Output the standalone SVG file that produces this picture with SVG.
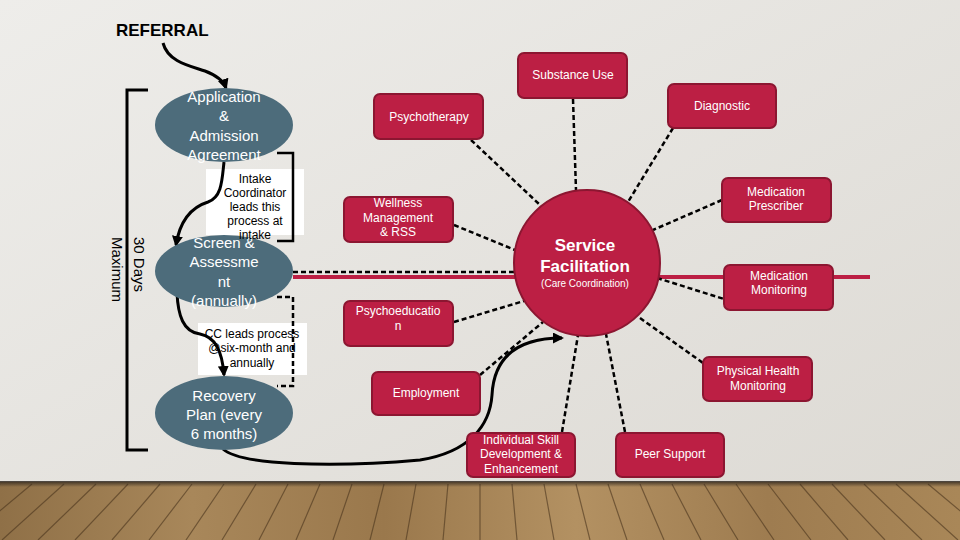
<svg xmlns="http://www.w3.org/2000/svg" width="960" height="540" viewBox="0 0 960 540">
<defs>
<linearGradient id="bg" x1="0" y1="0" x2="1" y2="1">
<stop offset="0" stop-color="#eeedea"/><stop offset="1" stop-color="#dcd9d3"/>
</linearGradient>
<linearGradient id="wood" x1="0" y1="0" x2="1" y2="0">
<stop offset="0" stop-color="#8f7047"/><stop offset="0.2" stop-color="#a8875a"/><stop offset="0.4" stop-color="#9a784c"/><stop offset="0.6" stop-color="#b39162"/><stop offset="0.8" stop-color="#9e7c50"/><stop offset="1" stop-color="#a98758"/>
</linearGradient>
<linearGradient id="shade" x1="0" y1="0" x2="0" y2="1">
<stop offset="0" stop-color="#2e261e" stop-opacity="0.9"/><stop offset="1" stop-color="#2e261e" stop-opacity="0"/>
</linearGradient>
<marker id="arr" markerUnits="userSpaceOnUse" markerWidth="11" markerHeight="11" refX="9" refY="5.5" orient="auto">
<path d="M0,0 L11,5.5 L0,11 z" fill="#000"/>
</marker>
<style>
.ell{fill:#4d6c7b;}
.et{font-family:"Liberation Sans",Arial,sans-serif;font-size:15px;fill:#fff;text-anchor:middle;}
.box{fill:#bc1f44;stroke:#8c1631;stroke-width:2;}
.bt{font-family:"Liberation Sans",Arial,sans-serif;font-size:12px;fill:#fff;text-anchor:middle;}
.lbl{fill:#fff;}
.lt{font-family:"Liberation Sans",Arial,sans-serif;font-size:12px;fill:#000;text-anchor:middle;}
.dash{stroke:#000;stroke-width:2.5;stroke-dasharray:5 3;fill:none;}
.solid{stroke:#000;stroke-width:3;fill:none;}
</style>
</defs>

<rect width="960" height="540" fill="url(#bg)"/>

<!-- wood floor -->
<g id="floor">
<rect x="0" y="482" width="960" height="58" fill="url(#wood)"/>
<path d="M0,484 L-72,540 M32,484 L-35,540 M64,484 L2,540 M96,484 L38,540 M128,484 L75,540 M160,484 L112,540 M192,484 L149,540 M224,484 L186,540 M256,484 L222,540 M288,484 L259,540 M320,484 L296,540 M352,484 L333,540 M384,484 L370,540 M416,484 L406,540 M448,484 L443,540 M480,484 L480,540 M512,484 L517,540 M544,484 L554,540 M576,484 L590,540 M608,484 L627,540 M640,484 L664,540 M672,484 L701,540 M704,484 L738,540 M736,484 L774,540 M768,484 L811,540 M800,484 L848,540 M832,484 L885,540 M864,484 L922,540 M896,484 L958,540 M928,484 L995,540 M960,484 L1032,540" stroke="#4a341d" stroke-width="1.2" stroke-opacity="0.6" fill="none"/>
<rect x="0" y="481" width="960" height="6" fill="url(#shade)"/>
</g>

<text x="116" y="36" font-family="Liberation Sans,Arial,sans-serif" font-size="17" font-weight="bold" fill="#000">REFERRAL</text>

<!-- bracket and side label -->
<path d="M148,90 L127,90 L127,450 L148,450" class="solid"/>
<text transform="translate(134,237) rotate(90)" font-family="Liberation Sans,Arial,sans-serif" font-size="15" fill="#000">30 Days</text>
<text transform="translate(112,237) rotate(90)" font-family="Liberation Sans,Arial,sans-serif" font-size="15" fill="#000">Maximum</text>

<!-- white label boxes -->
<g id="label-intake">
<rect x="206" y="169" width="98" height="66" class="lbl"/>
<text class="lt" x="255" y="183">Intake</text>
<text class="lt" x="255" y="197">Coordinator</text>
<text class="lt" x="255" y="211">leads this</text>
<text class="lt" x="255" y="225">process at</text>
</g>
<g id="label-cc">
<rect x="198" y="323" width="109" height="52" class="lbl"/>
<text class="lt" x="252" y="338">CC leads process</text>
<text class="lt" x="252" y="352">@six-month and</text>
<text class="lt" x="252" y="367">annually</text>
</g>

<g id="connectors">
<line x1="293" y1="277" x2="870" y2="277" stroke="#bc1f44" stroke-width="4"/>
<line x1="293" y1="272" x2="515" y2="272" class="dash"/>
<path d="M163,43 C168,62 190,66 205,71 C218,76 224,82 226,88" class="solid" marker-end="url(#arr)"/>
<path d="M224,162 C222,180 222,197 208,202 C192,207 180,220 176,245" class="solid" marker-end="url(#arr)"/>
<path d="M177,293 C178,315 183,332 200,334 C215,337 222,350 224,375" class="solid" marker-end="url(#arr)"/>
<path d="M223,449 C240,465 330,468 420,460 C470,452 490,425 492,395 C494,355 520,338 562,338" class="solid" marker-end="url(#arr)"/>
<path d="M277,153 L293,153 L293,241 L277,241" stroke="#000" stroke-width="2.5" fill="none"/>
<path d="M277,297 L293,297 L293,386 L277,386" class="dash"/>
<line x1="573" y1="99" x2="576" y2="190" class="dash"/>
<line x1="471" y1="140" x2="539" y2="204" class="dash"/>
<line x1="673" y1="128" x2="628" y2="202" class="dash"/>
<line x1="722" y1="200" x2="653" y2="230" class="dash"/>
<line x1="454" y1="225" x2="515" y2="250" class="dash"/>
<line x1="454" y1="322" x2="524" y2="301" class="dash"/>
<line x1="657" y1="278" x2="724" y2="299" class="dash"/>
<line x1="480" y1="375" x2="543" y2="322" class="dash"/>
<line x1="562" y1="432" x2="578" y2="335" class="dash"/>
<line x1="625" y1="432" x2="606" y2="334" class="dash"/>
<line x1="640" y1="318" x2="703" y2="363" class="dash"/>
</g>

<g id="node-application">
<ellipse cx="224" cy="125" rx="69" ry="37" class="ell"/>
<text class="et" x="224" y="102">Application</text>
<text class="et" x="224" y="121">&amp;</text>
<text class="et" x="224" y="141">Admission</text>
<text class="et" x="224" y="160">Agreement</text>
</g>
<g id="node-screen">
<ellipse cx="224" cy="271" rx="69" ry="36" class="ell"/>
<text class="et" x="224" y="248">Screen &amp;</text>
<text class="et" x="224" y="267">Assessme</text>
<text class="et" x="224" y="287">nt</text>
<text class="et" x="224" y="306">(annually)</text>
</g>
<text class="lt" x="255" y="239">intake</text>
<g id="node-recovery">
<ellipse cx="224" cy="413" rx="69" ry="37" class="ell"/>
<text class="et" x="224" y="401">Recovery</text>
<text class="et" x="224" y="420">Plan (every</text>
<text class="et" x="224" y="439">6 months)</text>
</g>

<g id="node-service">
<circle cx="587" cy="263" r="73" fill="#bc1f44" stroke="#8c1631" stroke-width="2"/>
<text x="585" y="251" font-family="Liberation Sans,Arial,sans-serif" font-size="17" font-weight="bold" fill="#fff" text-anchor="middle">Service</text>
<text x="585" y="272" font-family="Liberation Sans,Arial,sans-serif" font-size="17" font-weight="bold" fill="#fff" text-anchor="middle">Facilitation</text>
<text x="585" y="287" font-family="Liberation Sans,Arial,sans-serif" font-size="10" fill="#fff" text-anchor="middle">(Care Coordination)</text>
</g>

<g id="node-substance"><rect x="518" y="53" width="109" height="45" rx="6" class="box"/><text class="bt" x="573" y="79">Substance Use</text></g>
<g id="node-diagnostic"><rect x="668" y="84" width="108" height="44" rx="6" class="box"/><text class="bt" x="722" y="110">Diagnostic</text></g>
<g id="node-psychotherapy"><rect x="374" y="94" width="109" height="45" rx="6" class="box"/><text class="bt" x="429" y="121">Psychotherapy</text></g>
<g id="node-wellness"><rect x="344" y="197" width="109" height="45" rx="6" class="box"/><text class="bt" x="398" y="207">Wellness</text><text class="bt" x="398" y="222">Management</text><text class="bt" x="398" y="236">&amp; RSS</text></g>
<g id="node-prescriber"><rect x="722" y="178" width="109" height="44" rx="6" class="box"/><text class="bt" x="776" y="196">Medication</text><text class="bt" x="776" y="210">Prescriber</text></g>
<g id="node-monitoring"><rect x="724" y="265" width="109" height="45" rx="6" class="box"/><text class="bt" x="779" y="280">Medication</text><text class="bt" x="779" y="294">Monitoring</text></g>
<g id="node-psychoeducation"><rect x="344" y="301" width="109" height="45" rx="6" class="box"/><text class="bt" x="398" y="315">Psychoeducatio</text><text class="bt" x="398" y="330">n</text></g>
<g id="node-employment"><rect x="372" y="372" width="108" height="43" rx="6" class="box"/><text class="bt" x="426" y="397">Employment</text></g>
<g id="node-physical"><rect x="703" y="357" width="109" height="44" rx="6" class="box"/><text class="bt" x="758" y="375">Physical Health</text><text class="bt" x="758" y="390">Monitoring</text></g>
<g id="node-skill"><rect x="467" y="433" width="108" height="44" rx="6" class="box"/><text class="bt" x="521" y="444">Individual Skill</text><text class="bt" x="521" y="458">Development &amp;</text><text class="bt" x="521" y="473">Enhancement</text></g>
<g id="node-peer"><rect x="616" y="433" width="108" height="44" rx="6" class="box"/><text class="bt" x="670" y="458">Peer Support</text></g>
</svg>
